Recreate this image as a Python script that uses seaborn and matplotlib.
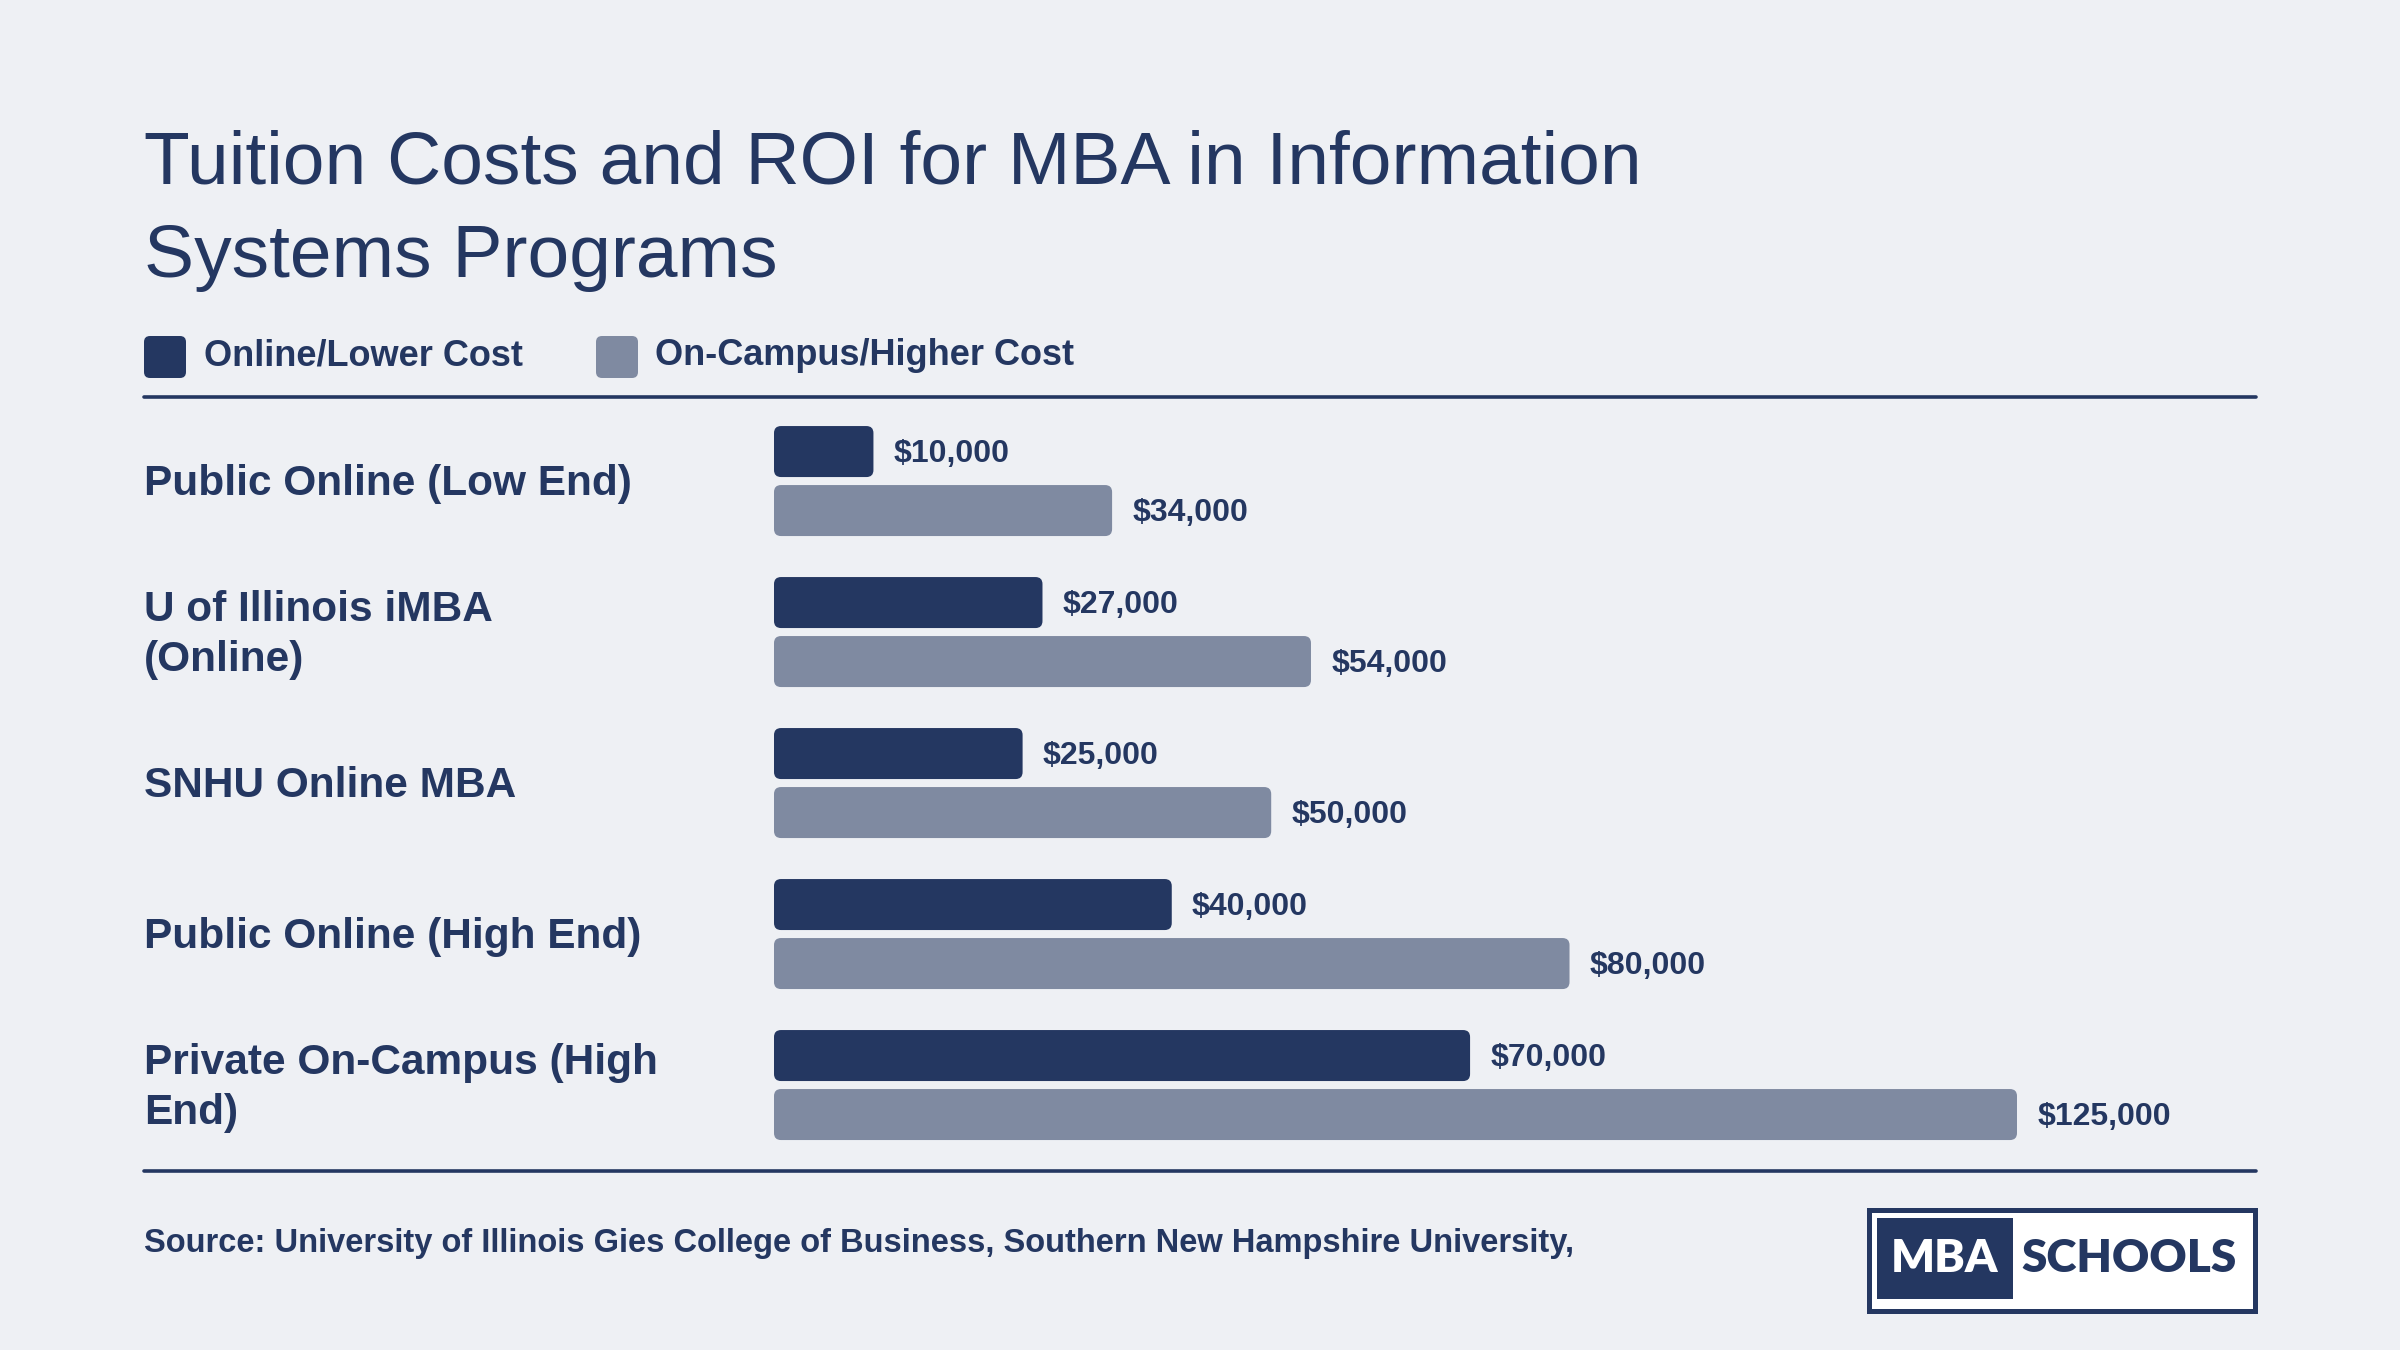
import numpy as np
import pandas as pd
import seaborn as sns
import matplotlib.pyplot as plt
from matplotlib.patches import FancyBboxPatch, Rectangle
from matplotlib.lines import Line2D
from matplotlib.transforms import blended_transform_factory, ScaledTranslation

# data
programs = ["Public Online (Low End)", "U of Illinois iMBA\n(Online)", "SNHU Online MBA",
            "Public Online (High End)", "Private On-Campus (High\nEnd)"]
lower_cost = [10000, 27000, 25000, 40000, 70000]
higher_cost = [34000, 54000, 50000, 80000, 125000]
series = ["Online/Lower Cost", "On-Campus/Higher Cost"]

navy = '#243761'
slate = '#7f8aa1'
bg = '#eef0f4'

df = pd.DataFrame({
    'program': programs * 2,
    'cost': lower_cost + higher_cost,
    'type': [series[0]] * len(programs) + [series[1]] * len(programs),
})

sns.set_theme(style='white', rc={'figure.facecolor': bg, 'axes.facecolor': bg})
plt.rcParams['font.family'] = ['Liberation Sans', 'DejaVu Sans']

W, H = 2400, 1350
fig = plt.figure(figsize=(24, 13.5), dpi=100)

def fx(px):
    return px / W

def fy(py):
    return 1 - py / H

ax = fig.add_axes([fx(774), fy(1169), fx(2256) - fx(774), fy(398) - fy(1169)])
sns.barplot(data=df, y='program', x='cost', hue='type', order=programs, hue_order=series,
            palette=[navy, slate], saturation=1, orient='h', width=0.7815, gap=0.1356,
            errorbar=None, legend=False, ax=ax)
ax.set_xlim(0, 1482 / 9.944 * 1000)
ax.set_ylim(4.556, -0.55)
ax.set_facecolor('none')
for s in ax.spines.values():
    s.set_visible(False)
ax.set_xticks([])
ax.set_yticks([])
ax.set_xlabel('')
ax.set_ylabel('')

# rounded bar corners
ppx = abs(ax.transData.transform((1, 0))[0] - ax.transData.transform((0, 0))[0])
ppy = abs(ax.transData.transform((0, 1))[1] - ax.transData.transform((0, 0))[1])
r = 7
for p in list(ax.patches):
    x, y = p.get_xy()
    fb = FancyBboxPatch((x, y), p.get_width(), p.get_height(),
                        boxstyle=f"round,pad=0,rounding_size={r / ppx}",
                        mutation_aspect=ppx / ppy, fc=p.get_facecolor(), ec='none')
    ax.add_patch(fb)
    p.set_visible(False)

for c in ax.containers:
    texts = ax.bar_label(c, fmt=lambda v: f"${v:,.0f}", padding=14.5, fontsize=23,
                         fontweight='bold', color=navy)
    for t in texts:
        t.xyann = (14.5, -1.6)

# category labels
tr = blended_transform_factory(fig.transFigure, ax.transData) + \
    ScaledTranslation(0, -3 / 100, fig.dpi_scale_trans)
for i, name in enumerate(programs):
    ax.text(fx(144), i, name, transform=tr, ha='left', va='center', fontsize=30.5,
            fontweight='bold', color=navy, linespacing=1.32)

# title
fig.text(fx(144), fy(183), "Tuition Costs and ROI for MBA in Information", fontsize=54,
         color=navy, ha='left', va='baseline')
fig.text(fx(144), fy(277), "Systems Programs", fontsize=54, color=navy, ha='left', va='baseline')

# legend
asp = W / H
for x0, tx, lab, col in [(144, 204, series[0], navy), (596, 655, series[1], slate)]:
    fig.add_artist(FancyBboxPatch((fx(x0), fy(378)), 42 / W, 42 / H,
                                  boxstyle=f"round,pad=0,rounding_size={6 / W}",
                                  mutation_aspect=asp, fc=col, ec='none',
                                  transform=fig.transFigure))
    fig.text(fx(tx), fy(365), lab, fontsize=26, fontweight='bold', color=navy,
             ha='left', va='baseline')

# rules
for py in [396.5, 1170.5]:
    fig.add_artist(Line2D([fx(144), fx(2256)], [fy(py), fy(py)], color=navy, lw=2.6,
                          transform=fig.transFigure))

# source
fig.text(fx(144), fy(1252), "Source: University of Illinois Gies College of Business, Southern New Hampshire University,",
         fontsize=23.5, fontweight='bold', color=navy, ha='left', va='baseline')

# logo
fig.add_artist(Rectangle((fx(1868.5), fy(1310.5)), 386 / W, 101 / H, fc='white', ec=navy,
                         lw=3.6, transform=fig.transFigure))
fig.add_artist(Rectangle((fx(1877), fy(1299)), 136 / W, 81 / H, fc=navy, ec='none',
                         transform=fig.transFigure))
fig.text(fx(1945), fy(1259), "MBA", fontsize=33, fontweight='heavy', color='white',
         ha='center', va='center', family=['Lato', 'DejaVu Sans'])
fig.text(fx(2129), fy(1259), "SCHOOLS", fontsize=33, fontweight='heavy', color=navy,
         ha='center', va='center', family=['Lato', 'DejaVu Sans'])

fig.savefig('out.png', dpi=100, facecolor=bg)
